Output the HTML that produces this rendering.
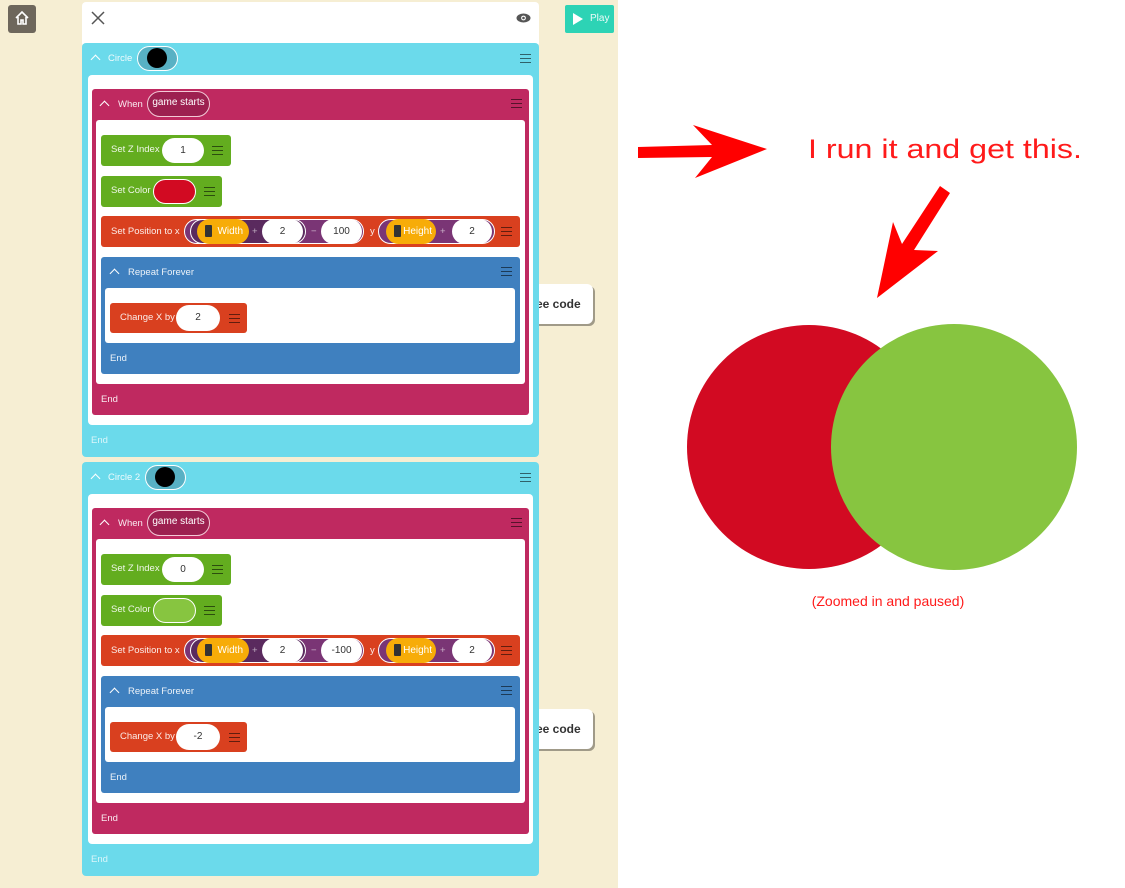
<!DOCTYPE html>
<html><head><meta charset="utf-8"><style>
*{margin:0;padding:0;box-sizing:border-box}
body{width:1125px;height:888px;position:relative;overflow:hidden;background:#fff;font-family:"Liberation Sans",sans-serif}
.a{position:absolute}
.lbl{position:absolute;color:#fff;font-size:9.5px;line-height:12px;white-space:nowrap;opacity:.9}
.pill{position:absolute;border-radius:14px;background:#fff;color:#333;font-size:10px;text-align:center;white-space:nowrap}
.hb{position:absolute;width:11px;height:9px;border-top:1.5px solid rgba(0,0,0,.55);border-bottom:1.5px solid rgba(0,0,0,.55)}
.hb:after{content:"";position:absolute;left:0;right:0;top:2.5px;border-top:1.5px solid rgba(0,0,0,.55)}
.chev{position:absolute;width:7px;height:7px;border-left:1.5px solid #fff;border-top:1.5px solid #fff;transform:rotate(45deg)}
.sc{position:absolute;left:530px;width:63px;height:40px;background:#fff;border-radius:6px;box-shadow:2px 2px 0 #a09a88;font-weight:bold;font-size:12px;color:#333;line-height:40px;padding-left:6px}
.gs{line-height:22px !important}
</style></head><body>
<div class="a" style="left:0;top:0;width:618px;height:888px;background:#f6eed3"></div>
<div class="a" style="left:8px;top:5px;width:28px;height:28px;background:#6e675c;border-radius:3px"></div>
<svg class="a" style="left:14px;top:10px" width="16" height="16" viewBox="0 0 16 16"><path d="M2 8 L8 2 L14 8 M4 7 V14 H7 V10 H9 V14 H12 V7" fill="none" stroke="#fff" stroke-width="1.6"/></svg>
<div class="a" style="left:565px;top:5px;width:49px;height:28px;background:#2dd3b5;border-radius:2px"></div>
<svg class="a" style="left:572px;top:12px" width="12" height="14"><polygon points="1,1 11,7 1,13" fill="#fff"/></svg>
<div class="lbl" style="left:590px;top:13px;font-size:10px">Play</div>
<div class="a" style="left:82px;top:2px;width:457px;height:45px;background:#fff;border-radius:4px"></div>
<svg class="a" style="left:91px;top:11px" width="14" height="14"><path d="M1 1L13 13M13 1L1 13" stroke="#555" stroke-width="1.5"/></svg>
<svg class="a" style="left:516px;top:12px" width="15" height="12"><ellipse cx="7.5" cy="6" rx="7" ry="4.5" fill="#555"/><circle cx="7.5" cy="6" r="2.4" fill="#fff"/><circle cx="7.5" cy="6" r="1.3" fill="#555"/></svg>
<div class="sc" style="top:284px">ee code</div>
<div class="sc" style="top:709px">ee code</div>

<div class="a" style="left:0;top:0;width:618px;height:460px">
<div class="a" style="left:82px;top:43px;width:457px;height:414px;background:#6bdaeb;border-radius:4px"></div>
<div class="chev" style="left:92px;top:56px"></div>
<div class="lbl" style="left:108px;top:53px">Circle</div>
<div class="pill" style="left:137px;top:46px;width:41px;height:25px;background:#58b1c4;border:1.5px solid #fff"></div>
<div class="a" style="left:147px;top:48px;width:20px;height:20px;border-radius:50%;background:#000"></div>
<div class="hb" style="left:520px;top:54px"></div>
<div class="a" style="left:88px;top:75px;width:445px;height:350px;background:#fff;border-radius:4px"></div>
<div class="a" style="left:92px;top:89px;width:437px;height:326px;background:#bf2960;border-radius:3px"></div>
<div class="chev" style="left:101px;top:102px"></div>
<div class="lbl" style="left:118px;top:99px">When</div>
<div class="pill gs" style="left:147px;top:91px;width:63px;height:26px;background:#9d2050;border:1.5px solid #f3c9d6;color:#fff">game starts</div>
<div class="hb" style="left:511px;top:99px"></div>
<div class="a" style="left:96px;top:120px;width:429px;height:264px;background:#fff;border-radius:3px"></div>
<div class="a" style="left:101px;top:135px;width:130px;height:31px;background:#63ad1f;border-radius:3px"></div>
<div class="lbl" style="left:111px;top:144px">Set Z Index</div>
<div class="pill" style="left:162px;top:138px;width:42px;height:25px;line-height:25px">1</div>
<div class="hb" style="left:212px;top:146px"></div>
<div class="a" style="left:101px;top:176px;width:121px;height:31px;background:#63ad1f;border-radius:3px"></div>
<div class="lbl" style="left:111px;top:185px">Set Color</div>
<div class="pill" style="left:153px;top:179px;width:43px;height:25px;background:#d20a22;border:1.5px solid #fff"></div>
<div class="hb" style="left:204px;top:187px"></div>
<div class="a" style="left:101px;top:216px;width:419px;height:31px;background:#d9401f;border-radius:3px"></div>
<div class="lbl" style="left:111px;top:226px">Set Position to x</div>
<div class="pill" style="left:184px;top:219px;width:180px;height:25px;background:#7a3575;border:1.5px solid #fff"></div>
<div class="pill" style="left:190px;top:219px;width:116px;height:25px;background:#5a2a5e;border:1.5px solid #fff"></div>
<div class="pill" style="left:197px;top:219px;width:52px;height:25px;background:#f7ac08;color:#fff;line-height:25px;text-align:right;padding-right:6px">Width</div>
<div class="a" style="left:205px;top:225px;width:7px;height:12px;background:#333;border-radius:1px"></div>
<div class="lbl" style="left:252px;top:226px;opacity:.6">+</div>
<div class="pill" style="left:262px;top:219px;width:41px;height:25px;line-height:25px">2</div>
<div class="lbl" style="left:311px;top:226px;opacity:.6">−</div>
<div class="pill" style="left:321px;top:219px;width:41px;height:25px;line-height:25px">100</div>
<div class="lbl" style="left:370px;top:226px">y</div>
<div class="pill" style="left:378px;top:219px;width:117px;height:25px;background:#7a3575;border:1.5px solid #fff"></div>
<div class="pill" style="left:386px;top:219px;width:50px;height:25px;background:#f7ac08;color:#fff;line-height:25px;text-align:right;padding-right:4px">Height</div>
<div class="a" style="left:394px;top:225px;width:7px;height:12px;background:#333;border-radius:1px"></div>
<div class="lbl" style="left:440px;top:226px;opacity:.6">+</div>
<div class="pill" style="left:452px;top:219px;width:40px;height:25px;line-height:25px">2</div>
<div class="hb" style="left:501px;top:227px"></div>
<div class="a" style="left:101px;top:257px;width:419px;height:117px;background:#3f80bf;border-radius:3px"></div>
<div class="chev" style="left:111px;top:270px"></div>
<div class="lbl" style="left:128px;top:267px">Repeat Forever</div>
<div class="hb" style="left:501px;top:267px"></div>
<div class="a" style="left:105px;top:288px;width:410px;height:55px;background:#fff;border-radius:3px"></div>
<div class="a" style="left:110px;top:303px;width:137px;height:30px;background:#d9401f;border-radius:3px"></div>
<div class="lbl" style="left:120px;top:312px">Change X by</div>
<div class="pill" style="left:176px;top:305px;width:44px;height:26px;line-height:26px">2</div>
<div class="hb" style="left:229px;top:314px"></div>
<div class="lbl" style="left:110px;top:353px">End</div>
<div class="lbl" style="left:101px;top:394px">End</div>
<div class="lbl" style="left:91px;top:435px;opacity:.75">End</div>
</div>

<div class="a" style="left:0;top:419px;width:618px;height:460px">
<div class="a" style="left:82px;top:43px;width:457px;height:414px;background:#6bdaeb;border-radius:4px"></div>
<div class="chev" style="left:92px;top:56px"></div>
<div class="lbl" style="left:108px;top:53px">Circle 2</div>
<div class="pill" style="left:145px;top:46px;width:41px;height:25px;background:#58b1c4;border:1.5px solid #fff"></div>
<div class="a" style="left:155px;top:48px;width:20px;height:20px;border-radius:50%;background:#000"></div>
<div class="hb" style="left:520px;top:54px"></div>
<div class="a" style="left:88px;top:75px;width:445px;height:350px;background:#fff;border-radius:4px"></div>
<div class="a" style="left:92px;top:89px;width:437px;height:326px;background:#bf2960;border-radius:3px"></div>
<div class="chev" style="left:101px;top:102px"></div>
<div class="lbl" style="left:118px;top:99px">When</div>
<div class="pill gs" style="left:147px;top:91px;width:63px;height:26px;background:#9d2050;border:1.5px solid #f3c9d6;color:#fff">game starts</div>
<div class="hb" style="left:511px;top:99px"></div>
<div class="a" style="left:96px;top:120px;width:429px;height:264px;background:#fff;border-radius:3px"></div>
<div class="a" style="left:101px;top:135px;width:130px;height:31px;background:#63ad1f;border-radius:3px"></div>
<div class="lbl" style="left:111px;top:144px">Set Z Index</div>
<div class="pill" style="left:162px;top:138px;width:42px;height:25px;line-height:25px">0</div>
<div class="hb" style="left:212px;top:146px"></div>
<div class="a" style="left:101px;top:176px;width:121px;height:31px;background:#63ad1f;border-radius:3px"></div>
<div class="lbl" style="left:111px;top:185px">Set Color</div>
<div class="pill" style="left:153px;top:179px;width:43px;height:25px;background:#87c540;border:1.5px solid #fff"></div>
<div class="hb" style="left:204px;top:187px"></div>
<div class="a" style="left:101px;top:216px;width:419px;height:31px;background:#d9401f;border-radius:3px"></div>
<div class="lbl" style="left:111px;top:226px">Set Position to x</div>
<div class="pill" style="left:184px;top:219px;width:180px;height:25px;background:#7a3575;border:1.5px solid #fff"></div>
<div class="pill" style="left:190px;top:219px;width:116px;height:25px;background:#5a2a5e;border:1.5px solid #fff"></div>
<div class="pill" style="left:197px;top:219px;width:52px;height:25px;background:#f7ac08;color:#fff;line-height:25px;text-align:right;padding-right:6px">Width</div>
<div class="a" style="left:205px;top:225px;width:7px;height:12px;background:#333;border-radius:1px"></div>
<div class="lbl" style="left:252px;top:226px;opacity:.6">+</div>
<div class="pill" style="left:262px;top:219px;width:41px;height:25px;line-height:25px">2</div>
<div class="lbl" style="left:311px;top:226px;opacity:.6">−</div>
<div class="pill" style="left:321px;top:219px;width:41px;height:25px;line-height:25px">-100</div>
<div class="lbl" style="left:370px;top:226px">y</div>
<div class="pill" style="left:378px;top:219px;width:117px;height:25px;background:#7a3575;border:1.5px solid #fff"></div>
<div class="pill" style="left:386px;top:219px;width:50px;height:25px;background:#f7ac08;color:#fff;line-height:25px;text-align:right;padding-right:4px">Height</div>
<div class="a" style="left:394px;top:225px;width:7px;height:12px;background:#333;border-radius:1px"></div>
<div class="lbl" style="left:440px;top:226px;opacity:.6">+</div>
<div class="pill" style="left:452px;top:219px;width:40px;height:25px;line-height:25px">2</div>
<div class="hb" style="left:501px;top:227px"></div>
<div class="a" style="left:101px;top:257px;width:419px;height:117px;background:#3f80bf;border-radius:3px"></div>
<div class="chev" style="left:111px;top:270px"></div>
<div class="lbl" style="left:128px;top:267px">Repeat Forever</div>
<div class="hb" style="left:501px;top:267px"></div>
<div class="a" style="left:105px;top:288px;width:410px;height:55px;background:#fff;border-radius:3px"></div>
<div class="a" style="left:110px;top:303px;width:137px;height:30px;background:#d9401f;border-radius:3px"></div>
<div class="lbl" style="left:120px;top:312px">Change X by</div>
<div class="pill" style="left:176px;top:305px;width:44px;height:26px;line-height:26px">-2</div>
<div class="hb" style="left:229px;top:314px"></div>
<div class="lbl" style="left:110px;top:353px">End</div>
<div class="lbl" style="left:101px;top:394px">End</div>
<div class="lbl" style="left:91px;top:435px;opacity:.75">End</div>
</div>

<svg class="a" style="left:0;top:0" width="1125" height="888">
<polygon points="638,147 712,145 693,125 767,149 695,178 712,157 638,158" fill="#ff0000"/>
<polygon points="940,186 950,193 914,250 938,251 877,298 893,222 902,244" fill="#ff0000"/>
<circle cx="809" cy="447" r="122" fill="#d20a22"/>
<circle cx="954" cy="447" r="123" fill="#87c540"/>
<text x="808" y="158" font-family="Liberation Sans, sans-serif" font-size="27" fill="#ff1a1a" textLength="274" lengthAdjust="spacingAndGlyphs">I run it and get this.</text>
<text x="888" y="606" text-anchor="middle" font-family="Liberation Sans, sans-serif" font-size="14" fill="#ff1a1a">(Zoomed in and paused)</text>
</svg>
</body></html>
